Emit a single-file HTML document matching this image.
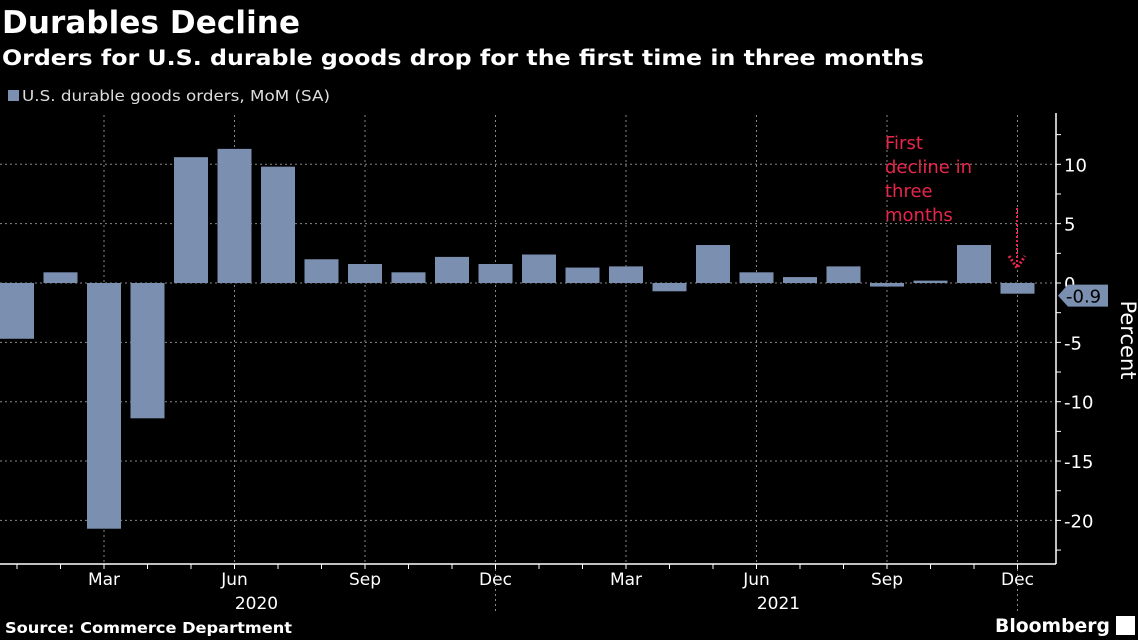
<!DOCTYPE html>
<html><head><meta charset="utf-8"><style>
body{margin:0;background:#000;width:1138px;height:640px;overflow:hidden;font-family:"DejaVu Sans","Liberation Sans",sans-serif;color:#fff}
svg{position:absolute;left:0;top:0}
</style></head><body>
<svg width="1138" height="640">
<text x="2" y="33" font-size="31" font-weight="bold" fill="#fff" textLength="298">Durables Decline</text>
<text x="2" y="65" font-size="21" font-weight="bold" fill="#fff" textLength="922" lengthAdjust="spacingAndGlyphs">Orders for U.S. durable goods drop for the first time in three months</text>
<rect x="8" y="90" width="11" height="11" fill="#7b8fb0"/>
<text x="22" y="101" font-size="15" fill="#ddd" textLength="308" lengthAdjust="spacingAndGlyphs">U.S. durable goods orders, MoM (SA)</text>
<g id="grid"></g><g id="bars"></g><g id="axes"></g>
<text x="1121" y="340" font-size="21" fill="#fff" transform="rotate(90 1121 340)" text-anchor="middle">Percent</text>
<g fill="#e8264a" font-size="18">
<text x="885" y="149">First</text><text x="885" y="173">decline in</text><text x="885" y="197">three</text><text x="885" y="221">months</text></g>
<line x1="1017" y1="208" x2="1017" y2="266" stroke="#e8264a" stroke-width="2" stroke-dasharray="2,2"/>
<path d="M1009 256 L1017 268 L1025 256" fill="none" stroke="#e8264a" stroke-width="3" stroke-dasharray="2,2"/>
<text x="5" y="633" font-size="15" font-weight="bold" fill="#fff" textLength="287" lengthAdjust="spacingAndGlyphs">Source: Commerce Department</text>
<text x="995" y="632" font-size="19" font-weight="bold" fill="#fff" textLength="115" lengthAdjust="spacingAndGlyphs">Bloomberg</text>
<rect x="1116" y="616" width="19" height="19" fill="#fff"/>
</svg>
<script>
const categories=["Jan20","Feb20","Mar20","Apr20","May20","Jun20","Jul20","Aug20","Sep20","Oct20","Nov20","Dec20","Jan21","Feb21","Mar21","Apr21","May21","Jun21","Jul21","Aug21","Sep21","Oct21","Nov21","Dec21"];
const values=[-4.7,0.9,-20.7,-11.4,10.6,11.3,9.8,2.0,1.6,0.9,2.2,1.6,2.4,1.3,1.4,-0.7,3.2,0.9,0.5,1.4,-0.3,0.2,3.2,-0.9];
const yTicks=[10,5,0,-5,-10,-15,-20];
const monthLabels=[[2,"Mar"],[5,"Jun"],[8,"Sep"],[11,"Dec"],[14,"Mar"],[17,"Jun"],[20,"Sep"],[23,"Dec"]];
const yearLabels=[[5,"2020"],[17,"2021"]];
const NS="http://www.w3.org/2000/svg";
const X=i=>17+i*43.5, Y=v=>283-v*11.87;
function mk(t,a,p){const e=document.createElementNS(NS,t);for(const k in a)e.setAttribute(k,a[k]);p.appendChild(e);return e;}
const G=document.getElementById('grid'),B=document.getElementById('bars'),A=document.getElementById('axes');
yTicks.forEach(v=>{const l=mk('line',{x1:0,x2:1056,y1:Y(v),y2:Y(v),stroke:'#888','stroke-dasharray':'2,3','stroke-width':1},G);


const t=mk('text',{x:1064,y:Y(v)+7,'font-size':18,fill:'#fff'},A);t.textContent=v;

});
for(let v=12.5;v>=-22.5;v-=2.5)mk('line',{x1:1056,x2:1061,y1:Y(v),y2:Y(v),stroke:'#fff'},A);
monthLabels.forEach(([i,s])=>{const l=mk('line',{x1:X(i),x2:X(i),y1:115,y2:564,stroke:'#888','stroke-dasharray':'2,3'},G);


const t=mk('text',{x:X(i),y:585,'font-size':17,fill:'#fff','text-anchor':'middle'},A);t.textContent=s;

});
yearLabels.forEach(([i,s])=>{const t=mk('text',{x:X(i)+22,y:609,'font-size':17,fill:'#fff','text-anchor':'middle'},A);t.textContent=s;

});
[11,23].forEach(i=>mk('line',{x1:X(i),x2:X(i),y1:564,y2:612,stroke:'#888','stroke-dasharray':'2,3'},A));
categories.forEach((c,i)=>{const v=values[i];const r=mk('rect',{x:X(i)-17,width:34,y:Math.min(Y(v),Y(0)),height:Math.abs(Y(v)-Y(0)),fill:'#7b8fb0'},B);


mk('line',{x1:X(i),x2:X(i),y1:564,y2:569,stroke:'#fff'},A);});
mk('line',{x1:0,x2:1056,y1:564,y2:564,stroke:'#fff','stroke-width':1.5},A);
mk('line',{x1:1056,x2:1056,y1:113,y2:564,stroke:'#fff','stroke-width':1.5},A);
const last=values[values.length-1],ly=Y(last)+2;
const cb=mk('path',{d:`M1058 ${ly} L1068 ${ly-11} L1108 ${ly-11} L1108 ${ly+11} L1068 ${ly+11} Z`,fill:'#7b8fb0'},A);


const ct=mk('text',{x:1066,y:ly+7,'font-size':18,fill:'#000'},A);ct.textContent=last.toFixed(1);


</script>
</body></html>
